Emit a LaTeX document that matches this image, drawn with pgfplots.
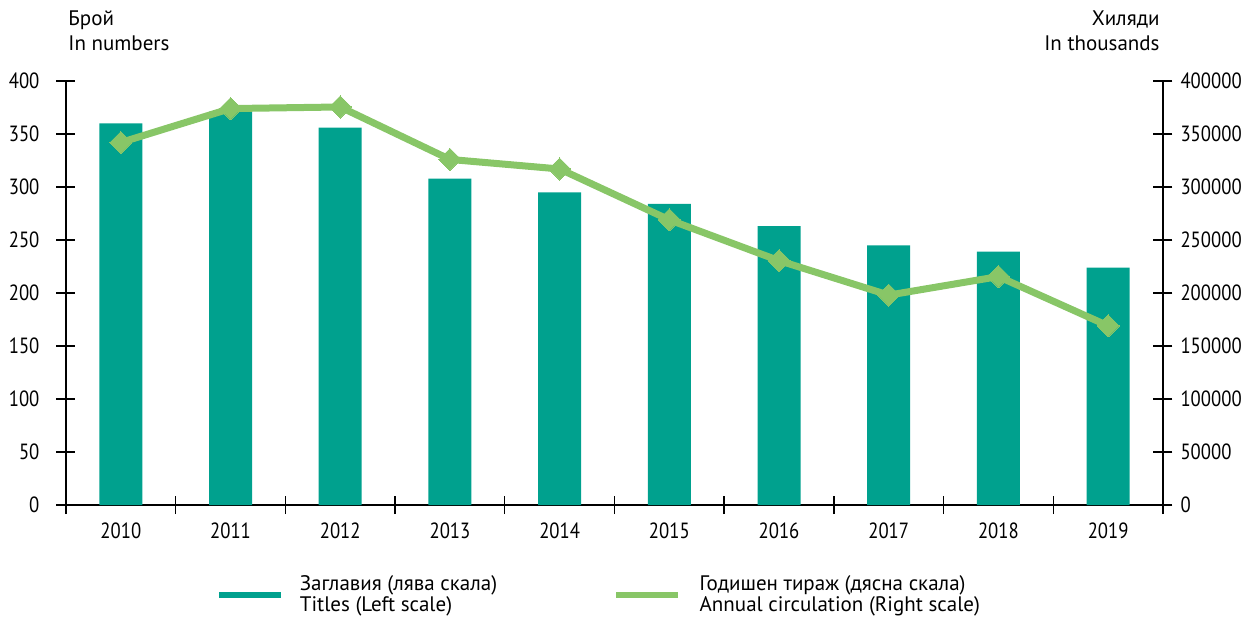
\documentclass[border=0pt]{standalone}
\usepackage{fontspec}
\setmainfont{PT Sans}
\newfontfamily\tickfont{PT Sans}[FakeStretch=0.85]
\usepackage{pgfplots}
\pgfplotsset{compat=1.18}
\definecolor{barteal}{RGB}{0,161,142}
\definecolor{linegreen}{RGB}{136,198,103}
\begin{document}
\begin{tikzpicture}
\useasboundingbox (-33pt,-56pt) rectangle (592pt,252.5pt);
\begin{axis}[
  at={(0,0)}, anchor=south west, scale only axis,
  width=548.5pt, height=212pt,
  xmin=-0.5, xmax=9.5, ymin=0, ymax=400,
  axis y line*=left, axis x line*=bottom,
  axis line style={black, line width=0.7pt},
  xtick={0,...,9},
  xticklabels={2010,2011,2012,2013,2014,2015,2016,2017,2018,2019},
  major x tick style={draw=none},
  minor xtick={-0.5,0.5,...,9.5},
  ytick={0,50,...,400},
  tick align=center,
  major tick length=9.5pt, minor tick length=9pt,
  tick style={black, line width=0.7pt},
  /pgf/number format/assume math mode=true,
  tick label style={font=\tickfont\fontsize{11}{13}\selectfont},
  yticklabel style={xshift=-5pt},
  xticklabel style={yshift=-0.5pt},
  clip=false,
]
\addplot[ybar, bar width=21.5pt, fill=barteal, draw=none] coordinates {
(0,360) (1,371) (2,356) (3,308) (4,295) (5,284) (6,263) (7,245) (8,239) (9,224)};
\node[anchor=south west, align=left, inner sep=0pt, font=\fontsize{10.5}{12.5}\selectfont] at ([xshift=1pt,yshift=15pt]rel axis cs:0,1) {Брой\\In numbers};
\node[anchor=south east, align=right, inner sep=0pt, font=\fontsize{10.5}{12.5}\selectfont] at ([xshift=-1.5pt,yshift=15pt]rel axis cs:1,1) {Хиляди\\In thousands};
\end{axis}
\begin{axis}[
  at={(0,0)}, anchor=south west, scale only axis,
  width=548.5pt, height=212pt,
  xmin=-0.5, xmax=9.5, ymin=0, ymax=400000,
  axis y line*=right, axis x line=none,
  axis line style={black, line width=0.7pt},
  ytick={0,50000,100000,150000,200000,250000,300000,350000,400000},
  yticklabels={0,50000,100000,150000,200000,250000,300000,350000,400000},
  scaled y ticks=false,
  tick align=center, major tick length=9.5pt,
  tick style={black, line width=0.7pt},
  tick label style={font=\tickfont\fontsize{11}{13}\selectfont},
  yticklabel style={xshift=0.5pt},
  clip=false,
  legend columns=2,
  legend style={at={(axis description cs:0.487,-0.212)}, anchor=center, draw=none,
    font=\fontsize{10.5}{10.5}\selectfont, cells={align=left, anchor=west},
    /tikz/every even column/.append style={column sep=56pt}},
  legend image code/.code={\draw[#1, line width=3pt] (0pt,0pt) -- (31pt,0pt);\path (38pt,0pt);},
]
\addlegendimage{barteal}
\addlegendentry{Заглавия (лява скала)\\Titles (Left scale)}
\addplot[linegreen, line width=3.5pt, mark=square*, mark size=3.9pt,
  mark options={rotate=45, solid, fill=linegreen, draw=linegreen, line width=0pt}] coordinates {
(0,342000) (1,374000) (2,375500) (3,326000) (4,317000) (5,269000) (6,230500) (7,198000) (8,215500) (9,169000)};
\addlegendentry{Годишен тираж (дясна скала)\\Annual circulation (Right scale)}
\end{axis}
\end{tikzpicture}
\end{document}
